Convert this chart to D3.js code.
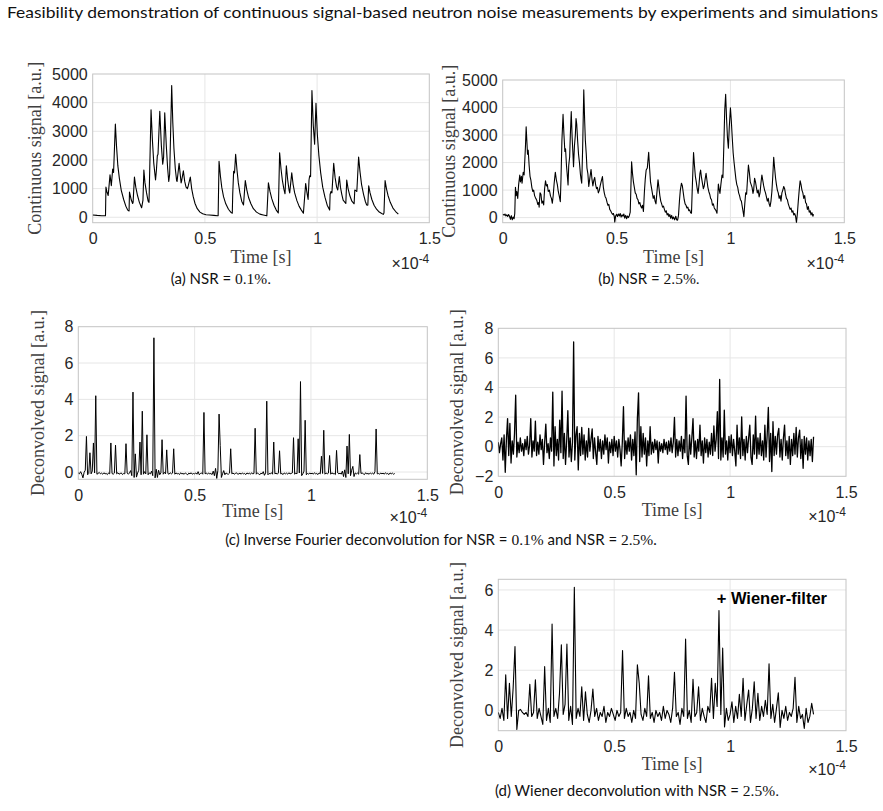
<!DOCTYPE html>
<html><head><meta charset="utf-8">
<script src="https://cdn.jsdelivr.net/npm/d3@7/dist/d3.min.js"></script>
<style>body{margin:0;background:#fff}svg{display:block}</style>
</head><body>
<svg id="chart" width="883" height="811"></svg>
<script>
// ---------------- DATA ----------------
const titleText = "Feasibility demonstration of continuous signal-based neutron noise measurements by experiments and simulations";
const xTicks = [0, 0.5, 1, 1.5];
const xTickLabels = ["0", "0.5", "1", "1.5"];
const yTicksContinuous = [0, 1000, 2000, 3000, 4000, 5000];
const yTicksDeconvLeft = [0, 2, 4, 6, 8];
const yTicksDeconvRight = [-2, 0, 2, 4, 6, 8];
const yTicksWiener = [0, 2, 4, 6];

// (a) continuous signal, NSR = 0.1% : time [1e-4 s], signal [a.u.]
const aTime = [0,0.02,0.04,0.057,0.059,0.063,0.069,0.0772,0.083,0.089,0.093,0.101,0.106,0.112,0.119,0.127,0.138,0.148,0.156,0.162,0.164,0.172,0.178,0.18,0.186,0.192,0.2,0.208,0.218,0.224,0.228,0.233,0.24,0.247,0.251,0.26,0.266,0.272,0.28,0.284,0.288,0.291,0.299,0.306,0.312,0.316,0.321,0.328,0.334,0.339,0.343,0.352,0.357,0.362,0.368,0.374,0.376,0.385,0.39,0.394,0.397,0.404,0.41,0.416,0.422,0.426,0.435,0.441,0.448,0.456,0.466,0.478,0.49,0.505,0.52,0.54,0.556,0.559,0.563,0.569,0.575,0.583,0.593,0.605,0.616,0.622,0.624,0.628,0.632,0.637,0.643,0.649,0.656,0.664,0.672,0.68,0.687,0.695,0.705,0.716,0.73,0.745,0.76,0.776,0.783,0.79,0.798,0.808,0.818,0.827,0.833,0.839,0.845,0.852,0.857,0.863,0.869,0.875,0.878,0.887,0.893,0.9,0.91,0.92,0.93,0.939,0.949,0.955,0.96,0.964,0.967,0.971,0.977,0.983,0.989,0.995,1.001,1.008,1.016,1.025,1.035,1.045,1.056,1.058,1.062,1.066,1.074,1.08,1.087,1.092,1.099,1.104,1.11,1.116,1.128,1.132,1.138,1.146,1.155,1.165,1.168,1.174,1.177,1.185,1.191,1.198,1.207,1.215,1.221,1.226,1.23,1.236,1.244,1.254,1.265,1.277,1.288,1.295,1.298,1.303,1.309,1.316,1.326,1.338,1.35,1.362];
const aSignal = [80,65,55,50,1050,900,760,1480,1100,1680,1560,3250,2500,1800,1350,950,620,380,250,220,880,600,480,520,1400,1050,750,520,330,600,1650,1200,850,560,520,3750,2700,1900,1300,1650,2150,2200,3700,2500,1850,2100,3650,2500,1700,1250,1500,4600,3300,2400,1700,1280,1250,1880,1500,1200,1300,1620,1250,1050,1000,1100,1400,1000,720,480,300,180,120,90,80,65,50,55,1950,1450,1050,720,470,280,170,140,800,1600,1550,2200,1650,1200,850,560,430,1280,950,680,470,300,180,110,80,50,1200,900,650,420,250,150,2250,1700,1300,980,820,1800,1300,950,850,1550,1150,850,580,380,250,140,1180,850,620,1300,1450,1420,4420,3200,2550,3980,2900,2150,1550,1050,700,420,250,800,900,850,1880,1400,1050,950,1420,1050,800,600,480,1300,1000,750,560,470,950,920,900,2100,1600,1150,800,550,430,420,1100,850,620,420,280,180,130,100,150,1280,1000,760,520,320,200,110];

// (b) continuous signal, NSR = 2.5%
const bTime = [0,0.006,0.01,0.014,0.018,0.022,0.026,0.03,0.034,0.038,0.042,0.046,0.05,0.053,0.056,0.059,0.062,0.066,0.07,0.075,0.078,0.082,0.085,0.09,0.094,0.1,0.103,0.106,0.109,0.112,0.116,0.12,0.124,0.128,0.132,0.136,0.14,0.145,0.15,0.154,0.158,0.16,0.164,0.168,0.172,0.176,0.18,0.184,0.188,0.192,0.196,0.2,0.205,0.21,0.214,0.218,0.222,0.226,0.231,0.236,0.24,0.244,0.248,0.253,0.256,0.26,0.265,0.269,0.273,0.276,0.28,0.284,0.287,0.29,0.294,0.297,0.301,0.305,0.308,0.311,0.315,0.319,0.322,0.325,0.329,0.333,0.337,0.341,0.344,0.347,0.351,0.356,0.36,0.363,0.367,0.37,0.374,0.378,0.382,0.388,0.392,0.396,0.4,0.404,0.408,0.412,0.416,0.42,0.424,0.428,0.432,0.438,0.442,0.446,0.45,0.454,0.458,0.462,0.466,0.47,0.474,0.478,0.482,0.486,0.49,0.492,0.496,0.5,0.504,0.508,0.512,0.516,0.52,0.524,0.528,0.532,0.536,0.54,0.544,0.548,0.552,0.556,0.56,0.566,0.57,0.574,0.578,0.582,0.586,0.59,0.594,0.598,0.602,0.606,0.61,0.614,0.618,0.622,0.626,0.63,0.635,0.641,0.645,0.649,0.653,0.657,0.661,0.665,0.669,0.673,0.677,0.682,0.686,0.69,0.694,0.698,0.702,0.706,0.71,0.714,0.718,0.722,0.726,0.73,0.734,0.738,0.742,0.746,0.75,0.755,0.76,0.764,0.768,0.772,0.776,0.78,0.785,0.789,0.793,0.797,0.801,0.805,0.809,0.813,0.817,0.821,0.825,0.829,0.833,0.838,0.842,0.846,0.85,0.854,0.858,0.862,0.866,0.869,0.873,0.877,0.881,0.885,0.889,0.893,0.897,0.901,0.905,0.909,0.913,0.917,0.921,0.925,0.929,0.933,0.937,0.941,0.944,0.947,0.951,0.954,0.958,0.963,0.967,0.971,0.975,0.979,0.983,0.987,0.991,0.995,1.0,1.004,1.008,1.012,1.016,1.02,1.024,1.028,1.032,1.036,1.04,1.044,1.048,1.052,1.056,1.059,1.063,1.067,1.071,1.075,1.079,1.083,1.087,1.091,1.095,1.099,1.102,1.106,1.11,1.114,1.118,1.122,1.126,1.13,1.134,1.138,1.142,1.146,1.15,1.154,1.158,1.162,1.166,1.17,1.174,1.178,1.182,1.186,1.19,1.194,1.198,1.202,1.206,1.21,1.214,1.218,1.222,1.226,1.23,1.234,1.238,1.242,1.246,1.25,1.254,1.258,1.262,1.266,1.27,1.274,1.278,1.282,1.286,1.29,1.294,1.298,1.302,1.306,1.31,1.314,1.318,1.322,1.326,1.33,1.334,1.338,1.342,1.346,1.35,1.354,1.358,1.362,1.365];
const bSignal = [120,90,130,60,100,40,110,50,-60,70,-80,20,-40,150,1100,800,950,700,1200,1550,1300,1500,1250,1650,1550,2600,3300,2800,2300,2450,1900,1500,1350,1100,950,1000,800,700,620,480,550,380,900,850,520,600,460,1050,1340,1150,1200,950,1000,780,700,520,820,1250,1650,1350,1200,950,800,580,1400,2800,3750,3000,2400,2500,1900,1500,1190,1900,2200,3000,3850,2900,2400,1850,2600,3000,3600,3400,2800,2300,2000,1600,1400,1250,2500,4640,3500,2800,2300,1800,1600,1130,1400,1750,1400,1150,1350,1460,1200,1050,1100,900,980,1150,1300,1490,1100,900,760,700,560,450,480,300,250,180,120,150,40,-170,60,120,40,130,60,150,20,100,50,130,-20,80,-40,60,0,70,200,2030,1600,1300,1100,900,850,700,650,500,550,420,350,450,220,900,1400,1730,1800,2370,1800,1300,1100,900,700,800,600,500,900,1370,1100,800,600,500,380,420,300,200,250,100,150,40,110,-30,80,-50,20,-80,50,-85,-90,80,600,1000,1250,1150,900,650,500,450,350,380,250,280,180,160,1200,2360,1900,1500,1300,1050,880,1200,1600,1730,1450,1250,1050,1150,1400,1610,1350,1100,950,850,700,650,450,500,350,300,250,160,700,1220,1000,880,1200,1550,1450,2600,3900,4480,3600,2900,2520,3300,3990,3500,2900,2350,2000,1700,1400,1200,1100,900,800,650,600,400,200,36,500,900,850,1400,1910,1650,1300,1200,1100,880,1000,1430,1300,1100,900,1000,750,900,1250,1550,1350,1150,1000,900,750,600,700,500,400,600,950,1500,2190,1800,1450,1200,1000,900,700,800,600,900,1000,1130,1050,850,700,650,500,400,300,350,200,250,100,150,50,-180,150,600,1000,1340,1200,1000,900,700,800,550,500,300,400,200,250,100,180,50,120];

// (c) inverse Fourier deconvolution, sample step 0.005 (x 1e-4 s)
const deconvStep = 0.005;
const cLeftSignal = [
-0.05,-0.1,0.02,-0.12,-0.32,-0.02,0.1,1.96,-0.15,-0.08,
1.06,-0.1,0.05,1.6,-0.05,4.2,-0.12,-0.08,-0.02,-0.1,
-0.06,-0.12,-0.04,-0.1,-0.08,-0.14,-0.05,-0.1,1.6,-0.08,
-0.12,-0.06,1.48,-0.1,-0.04,-0.12,-0.08,-0.05,-0.14,-0.08,
-0.1,1.56,-0.06,-0.12,-0.05,0.08,-0.2,4.4,-0.3,1.0,
-0.28,-0.05,0.1,1.65,-0.15,3.35,-0.12,0.02,-0.1,2.05,
-0.15,-0.05,-0.1,0.05,-0.2,7.39,-0.32,0.15,-0.3,0.1,
-0.15,-0.05,1.78,-0.12,-0.02,-0.1,1.22,-0.08,-0.12,-0.04,
-0.1,-0.06,1.28,-0.12,-0.05,-0.1,-0.08,-0.14,-0.04,-0.1,
-0.08,-0.12,-0.05,-0.1,-0.15,-0.06,-0.1,-0.04,-0.12,-0.08,
-0.1,-0.05,-0.12,0.02,-0.15,-0.08,-0.05,-0.12,3.28,-0.1,
-0.06,-0.12,-0.05,-0.1,-0.08,-0.14,0.05,-0.2,0.2,-0.35,
0.1,3.19,1.45,-0.3,-0.1,0.08,-0.15,-0.05,-0.1,-0.12,
-0.06,1.28,-0.1,-0.05,-0.12,-0.08,-0.04,-0.12,-0.1,-0.06,
-0.12,-0.05,-0.1,-0.08,-0.14,-0.05,-0.1,-0.06,-0.12,-0.04,
-0.1,-0.08,2.41,-0.12,-0.05,-0.1,-0.15,-0.06,-0.1,0.02,
-0.18,-0.05,3.9,-0.15,-0.08,-0.1,-0.04,-0.12,1.65,-0.1,
-0.06,-0.12,-0.05,1.17,-0.1,-0.08,-0.14,-0.05,-0.1,-0.06,
-0.12,-0.04,-0.1,-0.08,-0.05,1.89,-0.12,-0.06,-0.1,1.83,
-0.05,4.98,-0.2,-0.1,0.05,2.85,-0.15,-0.08,-0.12,-0.05,
-0.1,-0.06,-0.12,-0.04,-0.1,-0.08,-0.14,-0.05,-0.1,0.87,
-0.08,2.3,-0.12,-0.05,-0.1,-0.06,0.91,-0.12,-0.04,-0.1,
-0.08,-0.14,1.19,-0.05,-0.1,-0.06,-0.12,0.05,-0.25,0.12,
-0.3,1.43,-0.1,2.07,-0.2,0.1,0.31,-0.25,-0.05,-0.1,
-0.06,-0.12,0.96,-0.08,-0.05,-0.1,-0.14,-0.04,-0.1,-0.08,
-0.12,-0.05,-0.1,-0.06,-0.12,0.02,2.37,-0.1,-0.08,-0.12,
-0.05,-0.1,-0.06,-0.12,-0.04,-0.1,-0.08,-0.14,-0.05,-0.1,
-0.06,-0.12,-0.08];
const cRightSignal = [
0.3,-0.4,0.2,0.6,-0.9,0.8,-1.73,0.5,1.9,-0.6,
1.57,-1.1,0.4,-0.5,0.9,3.48,-0.7,0.3,-0.4,0.6,
-0.3,0.2,-0.6,0.5,-0.2,0.7,-0.5,0.1,1.9,-0.7,
0.4,-0.3,1.73,-0.6,0.3,-0.5,0.8,-0.2,0.5,-1.2,
0.3,1.53,-0.4,0.2,-0.8,0.6,-0.3,3.69,-1.3,1.35,
-0.6,0.5,-0.9,1.8,-0.4,3.75,-0.8,0.9,-1.2,0.4,
2.43,-0.7,0.6,-1.0,0.3,7.08,-0.9,0.8,1.35,-1.57,
0.9,-0.6,1.3,-0.5,0.8,-0.9,0.4,-0.7,1.24,-0.3,
0.5,1.2,-0.8,0.6,-0.4,-1.2,0.7,-0.3,0.5,-0.8,
0.4,-0.5,0.8,-0.2,0.6,-1.1,0.3,-0.4,0.5,-0.6,
0.7,-0.3,0.4,-0.7,0.5,-0.2,-1.3,0.3,2.7,-0.8,
0.4,-0.5,0.6,-0.3,0.8,-0.9,0.5,-0.6,1.0,-1.9,
1.9,3.64,-1.0,1.35,-0.7,0.9,-0.5,0.6,-1.3,0.4,
-0.6,1.35,-0.5,0.3,-0.4,0.5,-0.2,0.4,-1.1,0.3,
-0.3,0.2,-0.4,0.5,-0.2,0.3,-0.5,0.4,-0.3,0.6,
-0.4,0.3,1.98,-0.7,0.5,-0.6,0.4,-0.3,0.7,-0.8,
0.5,-0.4,3.42,-0.6,-1.2,0.8,-0.5,0.6,1.9,-0.7,
0.4,-0.8,0.5,-0.3,1.46,-0.6,0.4,-1.1,0.6,-0.4,
0.5,-0.7,0.3,-0.5,0.9,-0.6,1.4,-0.3,0.5,2.36,
-0.8,4.54,-0.9,0.6,-0.7,2.47,-0.5,0.4,-0.9,0.7,
-0.4,0.8,-0.6,0.5,-0.3,-1.3,1.46,-0.5,0.6,-0.8,
2.02,-0.6,0.5,-0.9,0.7,-0.4,0.6,1.46,-0.7,-1.2,
0.8,-0.5,2.07,-0.8,0.6,-0.5,0.9,-0.6,0.4,-0.9,
1.46,-0.7,0.8,2.65,-1.0,0.9,-1.68,1.69,-0.6,0.7,
-0.5,0.8,1.24,-0.7,0.5,-0.9,0.6,1.46,-0.6,0.4,
-0.8,0.7,-1.2,0.5,-0.6,0.9,-0.5,1.3,-0.7,0.6,
1.12,-0.8,0.5,-1.46,0.7,-0.5,0.6,-0.9,0.4,-0.6,
0.5,-1.0,0.67];

// (d) Wiener deconvolution, sample step 0.008 (x 1e-4 s)
const wienerStep = 0.008;
const wienerSignal = [
-0.1,-0.4,0.1,-0.5,1.77,-0.4,1.35,-0.3,1.1,3.18,
-0.95,0.0,0.05,-0.1,-0.2,-0.1,-0.3,1.3,-0.3,-0.1,
1.52,-0.4,0.1,-0.3,-0.7,2.18,-0.5,0.1,-0.6,4.3,
-0.3,0.1,-0.4,0.85,3.27,-0.2,0.3,3.3,-0.5,0.2,
-0.7,6.13,-0.4,0.1,-0.3,1.18,-0.5,0.93,-0.2,-0.6,
0.0,1.07,-0.3,0.1,-0.5,-0.1,-0.3,0.2,-0.6,-0.1,
-0.3,0.1,-0.2,-0.5,0.0,-0.3,-0.1,2.98,-0.4,0.1,
-0.3,-0.1,-0.6,0.0,-0.4,2.27,1.35,-0.2,-0.5,0.1,
-0.3,1.72,-0.4,-0.1,-0.6,0.0,-0.3,-0.1,-0.5,0.2,
-0.4,0.0,-0.2,-0.6,0.1,1.9,-0.3,-0.1,-0.7,0.1,
-0.3,3.55,-0.4,0.0,-0.6,1.55,-0.3,-0.1,1.18,-0.5,
0.1,-0.3,-0.6,0.2,-0.1,1.6,-0.4,1.35,0.2,4.97,
-0.2,3.1,-0.82,0.1,-0.5,-0.2,0.43,-0.6,0.2,-0.4,
0.8,-0.3,1.6,-0.5,0.3,1.02,-0.6,0.1,1.43,-0.4,
0.85,-0.5,0.2,-0.3,0.5,-0.2,2.32,-0.4,0.3,-0.6,
0.1,0.88,-0.85,0.0,-0.4,0.2,-0.5,-0.1,-0.3,0.1,
1.65,-0.6,0.2,-0.4,-0.2,-0.9,0.1,-0.6,-0.3,0.35,
-0.2];

// ---------------- DRAWING ----------------
const svg = d3.select("#chart");
const TICK_FONT = "'Liberation Sans', Arial, sans-serif";
const SERIF = "'Liberation Serif', 'DejaVu Serif', serif";
const SANS = "Lato, 'Open Sans', sans-serif";

svg.append("text").attr("x", 7).attr("y", 18)
  .attr("font-family", SANS).attr("font-size", 15).attr("fill", "#111")
  .attr("textLength", 871).attr("lengthAdjust", "spacingAndGlyphs")
  .text(titleText);

function toPoints(times, values) { return values.map((v, i) => [times[i], v]); }
function sampled(step, values) { return values.map((v, i) => [i * step, v]); }

let clipId = 0;
function drawPanel(cfg) {
  const g = svg.append("g");
  const x = d3.scaleLinear().domain([0, 1.5]).range([cfg.l, cfg.r]);
  const y = d3.scaleLinear().domain(cfg.yDomain).range([cfg.b, cfg.t]);
  // grid
  g.append("g").selectAll("line").data(xTicks.filter(d => d > 0 && d < 1.5)).join("line")
    .attr("x1", d => x(d)).attr("x2", d => x(d)).attr("y1", cfg.t).attr("y2", cfg.b)
    .attr("stroke", "#e6e6e6").attr("stroke-width", 1);
  g.append("g").selectAll("line").data(cfg.yTicks.filter(d => y(d) > cfg.t + 1 && y(d) < cfg.b - 1)).join("line")
    .attr("x1", cfg.l).attr("x2", cfg.r).attr("y1", d => y(d)).attr("y2", d => y(d))
    .attr("stroke", "#e6e6e6").attr("stroke-width", 1);
  // axes labels
  const ax = g.append("g").attr("transform", `translate(0,${cfg.b})`)
    .call(d3.axisBottom(x).tickValues(xTicks).tickFormat((d, i) => xTickLabels[i]).tickSize(0).tickPadding(10));
  const ay = g.append("g").attr("transform", `translate(${cfg.l},0)`)
    .call(d3.axisLeft(y).tickValues(cfg.yTicks).tickFormat(d3.format("d")).tickSize(0).tickPadding(5));
  [ax, ay].forEach(a => {
    a.select(".domain").remove();
    a.selectAll("text").attr("font-family", TICK_FONT).attr("font-size", 16).attr("fill", "#262626");
  });
  // box
  g.append("rect").attr("x", cfg.l).attr("y", cfg.t).attr("width", cfg.r - cfg.l).attr("height", cfg.b - cfg.t)
    .attr("fill", "none").attr("stroke", "#c4c4c4").attr("stroke-width", 1);
  // line
  const id = "clip" + (clipId++);
  svg.append("clipPath").attr("id", id).append("rect")
    .attr("x", cfg.l).attr("y", cfg.t).attr("width", cfg.r - cfg.l).attr("height", cfg.b - cfg.t);
  g.append("path").datum(cfg.points).attr("clip-path", `url(#${id})`)
    .attr("fill", "none").attr("stroke", "#000").attr("stroke-width", cfg.sw || 1.1)
    .attr("stroke-linejoin", "round")
    .attr("d", d3.line().x(d => x(d[0])).y(d => y(d[1])));
  // y label
  g.append("text").attr("transform", `translate(${cfg.ylx},${(cfg.t + cfg.b) / 2 + (cfg.yly || 0)}) rotate(-90)`)
    .attr("text-anchor", "middle").attr("dy", "0.35em")
    .attr("font-family", SERIF).attr("font-size", 18).attr("fill", "#404040").text(cfg.yLabel);
  // x label
  g.append("text").attr("x", (cfg.l + cfg.r) / 2).attr("y", cfg.xlBase)
    .attr("text-anchor", "middle").attr("font-family", SERIF).attr("font-size", 18).attr("fill", "#404040")
    .text("Time [s]");
  // exponent
  const ex = g.append("text").attr("x", cfg.r).attr("y", cfg.expBase).attr("text-anchor", "end")
    .attr("font-family", TICK_FONT).attr("font-size", 16).attr("fill", "#262626");
  ex.append("tspan").text("×10");
  ex.append("tspan").attr("dy", -6).attr("font-size", 12).text("-4");
}

function caption(cx, baseline, parts) {
  const t = svg.append("text").attr("x", cx).attr("y", baseline).attr("text-anchor", "middle")
    .attr("font-size", 15).attr("fill", "#111");
  parts.forEach(p => t.append("tspan").attr("font-family", p[1] ? SERIF : SANS)
    .attr("font-size", p[1] ? 15.5 : 15).text(p[0]));
}

drawPanel({ l: 92.7, r: 429.3, t: 74, b: 222.7, yDomain: [-190, 5000], yTicks: yTicksContinuous,
  points: toPoints(aTime, aSignal), yLabel: "Continuous signal [a.u.]", ylx: 35, xlBase: 263, expBase: 269 });
drawPanel({ l: 502.7, r: 844.3, t: 80, b: 222.7, yDomain: [-185, 5000], yTicks: yTicksContinuous,
  points: toPoints(bTime, bSignal), yLabel: "Continuous signal [a.u.]", ylx: 449, xlBase: 263, expBase: 269 });
drawPanel({ l: 78.3, r: 427.3, t: 326.7, b: 479.3, yDomain: [-0.4, 8], yTicks: yTicksDeconvLeft, sw: 1,
  points: sampled(deconvStep, cLeftSignal), yLabel: "Deconvolved signal [a.u.]", ylx: 38, xlBase: 517, expBase: 523 });
drawPanel({ l: 498.3, r: 846, t: 328.3, b: 476.3, yDomain: [-2, 8], yTicks: yTicksDeconvRight, sw: 1.3,
  points: sampled(deconvStep, cRightSignal), yLabel: "Deconvolved signal [a.u.]", ylx: 457, xlBase: 516, expBase: 522 });
drawPanel({ l: 498.3, r: 846, t: 579.3, b: 730.7, yDomain: [-1.01, 6.53], yTicks: yTicksWiener,
  points: sampled(wienerStep, wienerSignal), yLabel: "Deconvolved signal [a.u.]", ylx: 457, xlBase: 770, expBase: 775 });

svg.append("text").attr("x", 827).attr("y", 604).attr("text-anchor", "end")
  .attr("font-family", TICK_FONT).attr("font-weight", "bold").attr("font-size", 16.5).attr("fill", "#000")
  .text("+ Wiener-filter");

caption(221, 284, [["(a) NSR = ", false], ["0.1%.", true]]);
caption(649, 284, [["(b) NSR = ", false], ["2.5%.", true]]);
caption(441, 545, [["(c) Inverse Fourier deconvolution for NSR = ", false], ["0.1%", true], [" and NSR = ", false], ["2.5%", true], [".", false]]);
caption(637, 796, [["(d) Wiener deconvolution with NSR = ", false], ["2.5%.", true]]);
</script>
</body></html>
